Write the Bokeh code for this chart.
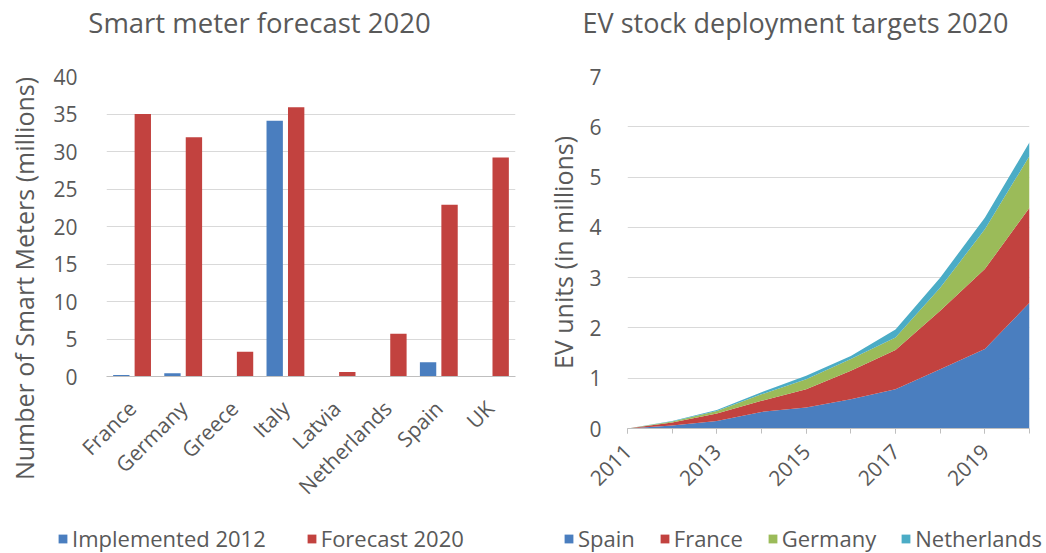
import math
from bokeh.plotting import figure
from bokeh.layouts import row, column
from bokeh.models import (ColumnDataSource, FactorRange, Range1d, FixedTicker,
                          Legend, LegendItem, Label)
from bokeh.transform import dodge
from bokeh.embed import file_html
from bokeh.resources import INLINE

# ---------------- data ----------------
countries = ["France", "Germany", "Greece", "Italy", "Latvia", "Netherlands", "Spain", "UK"]
implemented_2012 = [0.2, 0.45, 0.0, 34.1, 0.0, 0.0, 1.9, 0.0]
forecast_2020 = [35.0, 31.9, 3.3, 35.9, 0.6, 5.7, 22.9, 29.2]
meter_ticks = [0, 5, 10, 15, 20, 25, 30, 35, 40]

years = [2011, 2012, 2013, 2014, 2015, 2016, 2017, 2018, 2019, 2020]
year_labels = ["2011", "2013", "2015", "2017", "2019"]
ev_ticks = [0, 1, 2, 3, 4, 5, 6, 7]
ev_spain = [0, 0.06, 0.15, 0.33, 0.42, 0.58, 0.78, 1.18, 1.58, 2.50]
ev_france = [0, 0.06, 0.15, 0.22, 0.36, 0.57, 0.78, 1.16, 1.59, 1.89]
ev_germany = [0, 0.02, 0.05, 0.13, 0.20, 0.23, 0.25, 0.46, 0.79, 1.03]
ev_netherlands = [0, 0.01, 0.02, 0.04, 0.07, 0.06, 0.16, 0.20, 0.23, 0.27]

# ---------------- styles ----------------
FONT = "Open Sans"
TXT = "#595959"
GRID = "#D9D9D9"
AXIS = "#BFBFBF"
BLUE = "#4A7EBF"
RED = "#C2423F"
GREEN = "#9BBB59"
CYAN = "#4BACC6"

MID_H = 472   # height of the chart row
TOP_H = 48    # height of the title row
LEG_H = 33    # height of the legend row


def text_fig(w, h):
    """A blank figure whose frame is the whole canvas, used to hold texts."""
    f = figure(width=w, height=h, x_range=Range1d(0, w), y_range=Range1d(0, h),
               x_axis_location=None, y_axis_location=None, min_border=0,
               output_backend="svg", toolbar_location=None, frame_align=False)
    f.outline_line_color = None
    f.grid.visible = False
    return f


def style_chart(p):
    p.outline_line_color = None
    p.xgrid.grid_line_color = None
    p.ygrid.grid_line_color = GRID
    p.ygrid.grid_line_width = 1
    for ax in (p.xaxis[0], p.yaxis[0]):
        ax.major_label_text_font = FONT
        ax.major_label_text_font_size = "21px"
        ax.major_label_text_color = TXT
        ax.minor_tick_line_color = None
    p.yaxis.axis_line_color = None
    p.yaxis.major_tick_line_color = None
    p.yaxis.major_tick_out = 0
    p.xaxis.axis_line_color = AXIS
    p.xaxis.major_label_orientation = math.pi / 4


# ---------------- left chart ----------------
src1 = ColumnDataSource(dict(country=countries, implemented=implemented_2012, forecast=forecast_2020))
p1 = figure(width=480, height=MID_H, x_range=FactorRange(*countries), y_range=Range1d(0, 40),
            output_backend="svg", toolbar_location=None, frame_align=False,
            min_border_left=45, min_border_right=15, min_border_top=28, min_border_bottom=144)
style_chart(p1)
p1.yaxis.ticker = FixedTicker(ticks=meter_ticks)
p1.yaxis.major_label_standoff = 29
p1.xaxis.major_tick_line_color = None
p1.xaxis.major_tick_out = 0
p1.xaxis.major_label_standoff = 28

p1.vbar(x=dodge("country", -0.21, range=p1.x_range), top="implemented", width=0.32,
        source=src1, fill_color=BLUE, line_color=None)
p1.vbar(x=dodge("country", 0.21, range=p1.x_range), top="forecast", width=0.32,
        source=src1, fill_color=RED, line_color=None)

# ---------------- right chart ----------------
src2 = ColumnDataSource(dict(year=years, spain=ev_spain, france=ev_france,
                             germany=ev_germany, netherlands=ev_netherlands))
p2 = figure(width=466, height=MID_H, x_range=Range1d(years[0], years[-1]), y_range=Range1d(0, 7),
            output_backend="svg", toolbar_location=None, frame_align=False,
            min_border_left=47, min_border_right=17, min_border_top=28, min_border_bottom=92)
style_chart(p2)
p2.yaxis.ticker = FixedTicker(ticks=ev_ticks)
p2.yaxis.major_label_standoff = 26
p2.xaxis.ticker = FixedTicker(ticks=[int(y) for y in year_labels], minor_ticks=years)
p2.xaxis.major_label_overrides = {int(y): y for y in year_labels}
p2.xaxis.major_tick_line_color = AXIS
p2.xaxis.minor_tick_line_color = AXIS
p2.xaxis.major_tick_in = 0
p2.xaxis.major_tick_out = 5
p2.xaxis.minor_tick_in = 0
p2.xaxis.minor_tick_out = 5
p2.xaxis.major_label_standoff = 14

p2.varea_stack(["spain", "france", "germany", "netherlands"], x="year", source=src2,
               color=[BLUE, RED, GREEN, CYAN])

# ---------------- y-axis titles (narrow text strips) ----------------
yl1 = text_fig(50, MID_H)
yl1.add_layout(Label(x=23, y=242, text="Number of Smart Meters (millions)", angle=math.pi / 2,
                     text_font=FONT, text_font_size="25px", text_color=TXT,
                     text_align="center", text_baseline="middle"))
yl2 = text_fig(50, MID_H)
yl2.add_layout(Label(x=32, y=268, text="EV units (in millions)", angle=math.pi / 2,
                     text_font=FONT, text_font_size="25px", text_color=TXT,
                     text_align="center", text_baseline="middle"))

# ---------------- chart titles ----------------
t1 = text_fig(530, TOP_H)
t1.add_layout(Label(x=259, y=26, text="Smart meter forecast 2020",
                    text_font=FONT, text_font_size="27.5px", text_color=TXT,
                    text_align="center", text_baseline="middle"))
t2 = text_fig(516, TOP_H)
t2.add_layout(Label(x=265, y=26, text="EV stock deployment targets 2020",
                    text_font=FONT, text_font_size="27px", text_color=TXT,
                    text_align="center", text_baseline="middle"))


# ---------------- legends ----------------
def legend_fig(w, names, colors, x0, spacing):
    f = text_fig(w, LEG_H)
    items = []
    for name, col in zip(names, colors):
        # zero-height proxy bar outside the view: it only supplies the legend swatch
        r = f.vbar(x=[-10], top=[0], width=1, fill_color=col, line_color=None)
        items.append(LegendItem(label=name, renderers=[r]))
    leg = Legend(items=items, orientation="horizontal", location=(x0, 0),
                 label_text_font=FONT, label_text_font_size="22px", label_text_color=TXT,
                 glyph_width=11, glyph_height=11, label_standoff=4, spacing=spacing,
                 padding=0, margin=0, border_line_color=None, background_fill_alpha=0)
    f.add_layout(leg)
    return f


lg1 = legend_fig(530, ["Implemented 2012", "Forecast 2020"], [BLUE, RED], 57, 40)
lg2 = legend_fig(516, ["Spain", "France", "Germany", "Netherlands"], [BLUE, RED, GREEN, CYAN], 33, 24)

layout = column(row(t1, t2, spacing=0),
                row(yl1, p1, yl2, p2, spacing=0),
                row(lg1, lg2, spacing=0),
                spacing=0)
open("out.html", "w").write(file_html(layout, INLINE))
